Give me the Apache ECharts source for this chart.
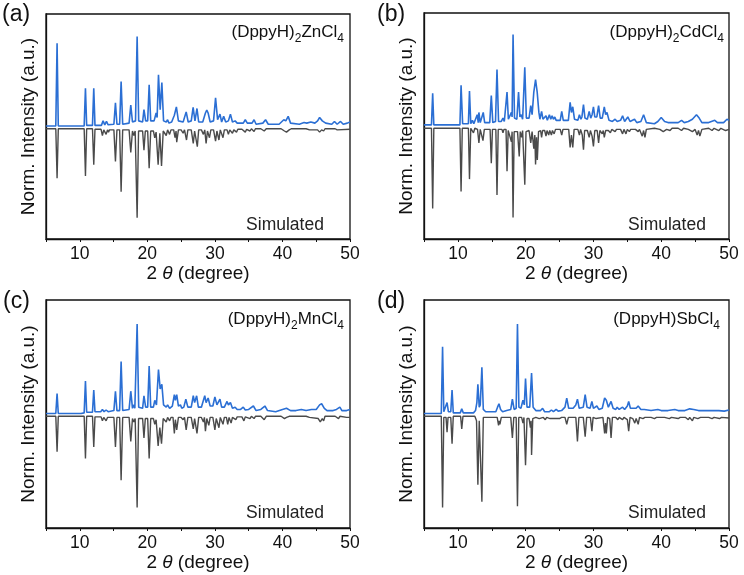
<!DOCTYPE html>
<html><head><meta charset="utf-8">
<script src="https://cdn.jsdelivr.net/npm/echarts@6/dist/echarts.min.js"></script>
<style>html,body{margin:0;padding:0;background:#fff}#c{width:744px;height:575px}</style>
</head><body><div id="c"></div>
<script>
// ---- data (2θ in degrees, normalized intensity) ----
const xTickLabels = [10, 20, 30, 40, 50];
const panelLetters = ['(a)', '(b)', '(c)', '(d)'];
const compoundMetals = ['Zn', 'Cd', 'Mn', 'Sb'];
const compoundCounts = ['2', '2', '2', ''];
const simLabel = 'Simulated';

const znExp = [[5,0.005],[6.45,0.005],[6.64,0.74],[6.82,0.005],[10.65,0.005],[10.84,0.34],[11.02,0.01],[11.88,0.01],[12.07,0.34],[12.25,0.01],[13.2,0.01],[13.45,0.05],[13.7,0.015],[13.95,0.045],[14.2,0.015],[15.05,0.02],[15.28,0.21],[15.5,0.02],[15.9,0.02],[16.12,0.40],[16.35,0.02],[17.3,0.03],[17.55,0.19],[17.8,0.04],[18.25,0.05],[18.49,0.80],[18.72,0.05],[19.3,0.04],[19.5,0.15],[19.75,0.05],[20.05,0.05],[20.27,0.37],[20.5,0.05],[21.0,0.05],[21.3,0.12],[21.45,0.08],[21.65,0.46],[21.9,0.15],[22.15,0.39],[22.4,0.05],[22.8,0.04],[23.0,0.06],[23.2,0.03],[23.6,0.04],[24.0,0.10],[24.3,0.175],[24.6,0.05],[25.3,0.04],[25.75,0.13],[26.05,0.04],[26.5,0.05],[26.78,0.17],[27.05,0.05],[27.35,0.16],[27.6,0.04],[28.2,0.04],[28.6,0.12],[28.8,0.145],[29.0,0.12],[29.3,0.04],[29.8,0.05],[30.1,0.255],[30.4,0.06],[30.75,0.11],[31.0,0.04],[31.3,0.09],[31.6,0.04],[32.0,0.05],[32.3,0.11],[32.6,0.04],[33.0,0.05],[33.3,0.03],[34.2,0.03],[34.5,0.06],[34.8,0.03],[35.5,0.03],[35.8,0.06],[36.1,0.02],[37.1,0.03],[37.5,0.06],[37.9,0.02],[39.5,0.02],[40.2,0.06],[40.5,0.05],[40.85,0.09],[41.2,0.03],[42.5,0.02],[43.2,0.035],[43.6,0.03],[44.2,0.04],[44.8,0.03],[45.2,0.05],[45.5,0.08],[45.9,0.05],[46.4,0.03],[47.3,0.02],[47.7,0.045],[48.1,0.02],[48.6,0.045],[49.0,0.02],[49.6,0.03],[50,0.04]];
const znSim = [[5,-0.02],[6.45,-0.02],[6.64,-0.46],[6.82,-0.02],[10.65,-0.02],[10.84,-0.44],[11.02,-0.02],[11.88,-0.02],[12.07,-0.34],[12.25,-0.025],[13.15,-0.025],[13.35,-0.08],[13.55,-0.03],[13.9,-0.07],[14.1,-0.03],[14.25,-0.05],[14.4,-0.03],[15.05,-0.03],[15.28,-0.31],[15.5,-0.03],[15.9,-0.03],[16.12,-0.58],[16.35,-0.03],[17.3,-0.03],[17.55,-0.23],[17.8,-0.04],[18.0,-0.08],[18.2,-0.04],[18.3,-0.04],[18.49,-0.81],[18.7,-0.04],[19.3,-0.04],[19.5,-0.21],[19.7,-0.04],[20.05,-0.04],[20.27,-0.37],[20.5,-0.04],[20.9,-0.04],[21.1,-0.10],[21.3,-0.05],[21.6,-0.34],[21.85,-0.06],[22.1,-0.35],[22.35,-0.04],[22.6,-0.03],[22.8,-0.08],[23.0,-0.03],[23.3,-0.07],[23.5,-0.03],[23.9,-0.03],[24.1,-0.10],[24.25,-0.04],[24.35,-0.14],[24.6,-0.03],[25.0,-0.03],[25.3,-0.06],[25.5,-0.03],[25.8,-0.12],[26.0,-0.03],[26.5,-0.03],[26.8,-0.15],[27.0,-0.04],[27.4,-0.18],[27.6,-0.03],[28.0,-0.03],[28.3,-0.07],[28.5,-0.03],[28.7,-0.15],[28.9,-0.04],[29.2,-0.10],[29.4,-0.03],[29.8,-0.03],[30.1,-0.13],[30.3,-0.04],[30.6,-0.12],[30.8,-0.03],[31.2,-0.10],[31.4,-0.03],[31.8,-0.03],[32.0,-0.07],[32.2,-0.03],[32.6,-0.06],[32.8,-0.03],[33.2,-0.05],[33.4,-0.025],[34.0,-0.025],[34.5,-0.05],[34.7,-0.025],[35.2,-0.04],[35.4,-0.02],[35.8,-0.045],[36.0,-0.02],[36.8,-0.02],[37.3,-0.04],[37.6,-0.02],[39.8,-0.02],[40.3,-0.04],[40.6,-0.05],[41.0,-0.03],[41.3,-0.02],[43.5,-0.02],[44.0,-0.03],[44.2,-0.02],[45.2,-0.03],[45.5,-0.05],[45.8,-0.03],[46.1,-0.04],[46.3,-0.02],[47.8,-0.02],[48.1,-0.03],[48.3,-0.02],[50,-0.025]];

const cdExp = [[5,0.01],[6.1,0.01],[6.28,0.29],[6.45,0.01],[10.3,0.01],[10.47,0.36],[10.7,0.02],[11.55,0.02],[11.71,0.31],[11.9,0.02],[12.0,0.02],[12.15,0.05],[12.35,0.02],[12.6,0.03],[12.85,0.10],[13.0,0.03],[13.1,0.12],[13.3,0.03],[13.55,0.04],[13.74,0.12],[13.95,0.03],[14.7,0.03],[14.93,0.27],[15.15,0.03],[15.55,0.04],[15.77,0.50],[16.0,0.04],[16.4,0.04],[16.65,0.07],[16.85,0.04],[17.05,0.05],[17.25,0.30],[17.45,0.06],[17.7,0.06],[17.9,0.12],[18.0,0.08],[18.14,0.81],[18.35,0.07],[18.7,0.06],[18.95,0.30],[19.15,0.08],[19.35,0.10],[19.55,0.06],[19.65,0.07],[19.87,0.52],[20.1,0.07],[20.5,0.07],[20.75,0.18],[20.95,0.10],[21.2,0.30],[21.46,0.41],[21.7,0.30],[21.95,0.12],[22.1,0.06],[22.35,0.13],[22.55,0.06],[22.8,0.05],[23.0,0.09],[23.2,0.05],[23.5,0.10],[23.7,0.06],[23.9,0.09],[24.1,0.06],[24.3,0.08],[24.5,0.05],[25.1,0.05],[25.32,0.13],[25.55,0.05],[26.3,0.05],[26.56,0.21],[26.75,0.12],[26.95,0.17],[27.2,0.06],[27.7,0.05],[27.93,0.10],[28.15,0.06],[28.3,0.08],[28.53,0.19],[28.75,0.07],[29.1,0.06],[29.37,0.13],[29.6,0.07],[29.8,0.10],[30.0,0.17],[30.2,0.08],[30.5,0.08],[30.76,0.18],[31.0,0.07],[31.3,0.07],[31.6,0.17],[31.8,0.10],[32.0,0.12],[32.3,0.05],[32.8,0.04],[33.2,0.06],[33.5,0.04],[34.0,0.05],[34.3,0.09],[34.6,0.04],[35.07,0.08],[35.4,0.04],[36.06,0.06],[36.4,0.03],[37.0,0.04],[37.4,0.10],[37.8,0.03],[39.0,0.02],[39.5,0.04],[40.0,0.075],[40.5,0.04],[41.0,0.03],[42.5,0.03],[43.0,0.05],[43.4,0.03],[44.0,0.04],[44.6,0.06],[45.2,0.10],[45.6,0.07],[46.0,0.03],[47.0,0.03],[47.9,0.05],[48.3,0.03],[49.2,0.03],[49.7,0.06],[50,0.05]];
const cdSim = [[5,-0.02],[6.1,-0.02],[6.28,-0.73],[6.45,-0.02],[10.3,-0.02],[10.47,-0.58],[10.65,-0.02],[11.55,-0.02],[11.71,-0.47],[11.9,-0.02],[12.1,-0.02],[12.3,-0.06],[12.5,-0.02],[12.9,-0.03],[13.1,-0.15],[13.3,-0.03],[13.5,-0.03],[13.7,-0.13],[13.9,-0.03],[14.75,-0.03],[14.93,-0.33],[15.1,-0.03],[15.6,-0.03],[15.77,-0.61],[15.95,-0.03],[16.5,-0.03],[16.65,-0.06],[16.8,-0.03],[17.1,-0.03],[17.25,-0.40],[17.42,-0.04],[17.7,-0.05],[17.9,-0.14],[18.0,-0.05],[18.14,-0.81],[18.3,-0.05],[18.8,-0.05],[19.05,-0.27],[19.2,-0.05],[19.4,-0.10],[19.55,-0.04],[19.7,-0.04],[19.87,-0.52],[20.05,-0.05],[20.5,-0.04],[20.75,-0.15],[20.95,-0.05],[21.2,-0.20],[21.35,-0.08],[21.46,-0.34],[21.6,-0.10],[21.72,-0.30],[21.9,-0.05],[22.2,-0.04],[22.35,-0.10],[22.5,-0.04],[22.8,-0.04],[23.0,-0.09],[23.15,-0.04],[23.4,-0.08],[23.55,-0.04],[23.8,-0.08],[23.95,-0.04],[24.2,-0.07],[24.4,-0.03],[25.1,-0.03],[25.32,-0.08],[25.5,-0.03],[26.35,-0.03],[26.56,-0.19],[26.75,-0.08],[26.95,-0.19],[27.15,-0.03],[27.7,-0.03],[27.93,-0.08],[28.1,-0.03],[28.35,-0.08],[28.53,-0.21],[28.7,-0.04],[29.1,-0.04],[29.37,-0.10],[29.55,-0.04],[29.8,-0.09],[30.0,-0.18],[30.2,-0.04],[30.55,-0.04],[30.76,-0.15],[30.95,-0.04],[31.3,-0.07],[31.45,-0.04],[31.6,-0.10],[31.8,-0.04],[32.2,-0.04],[32.5,-0.06],[32.7,-0.03],[33.2,-0.05],[33.4,-0.03],[34.0,-0.03],[34.3,-0.07],[34.5,-0.03],[34.8,-0.07],[35.0,-0.03],[35.3,-0.05],[35.5,-0.03],[36.2,-0.03],[36.6,-0.05],[36.8,-0.03],[37.2,-0.09],[37.4,-0.04],[37.6,-0.10],[37.8,-0.03],[39.0,-0.02],[39.8,-0.03],[40.3,-0.05],[40.8,-0.03],[41.3,-0.04],[41.6,-0.02],[42.5,-0.02],[43.0,-0.04],[43.3,-0.02],[44.0,-0.03],[44.6,-0.05],[45.0,-0.03],[45.3,-0.08],[45.5,-0.04],[45.7,-0.09],[46.0,-0.03],[47.0,-0.02],[47.5,-0.04],[47.8,-0.02],[48.5,-0.04],[48.8,-0.02],[49.5,-0.04],[50,-0.03]];

const mnExp = [[5,0.005],[6.45,0.005],[6.64,0.18],[6.82,0.005],[10.2,0.005],[10.65,0.01],[10.84,0.29],[11.02,0.015],[11.88,0.015],[12.07,0.21],[12.25,0.02],[13.1,0.02],[13.35,0.04],[13.6,0.02],[13.9,0.035],[14.2,0.02],[15.05,0.03],[15.28,0.20],[15.5,0.03],[15.9,0.03],[16.12,0.46],[16.35,0.03],[17.3,0.04],[17.55,0.20],[17.8,0.05],[18.0,0.08],[18.15,0.05],[18.28,0.06],[18.49,0.79],[18.72,0.06],[19.3,0.05],[19.5,0.16],[19.75,0.06],[20.05,0.06],[20.27,0.42],[20.5,0.06],[20.9,0.06],[21.1,0.12],[21.35,0.08],[21.65,0.39],[21.9,0.22],[22.15,0.26],[22.4,0.08],[22.8,0.06],[23.0,0.08],[23.3,0.05],[23.7,0.07],[24.0,0.17],[24.15,0.12],[24.35,0.17],[24.6,0.07],[24.9,0.08],[25.1,0.05],[25.4,0.06],[25.7,0.13],[26.0,0.06],[26.5,0.06],[26.8,0.16],[27.0,0.10],[27.3,0.16],[27.55,0.06],[28.0,0.06],[28.5,0.16],[28.7,0.10],[29.0,0.14],[29.3,0.07],[29.7,0.07],[30.0,0.15],[30.3,0.08],[30.75,0.13],[31.0,0.06],[31.4,0.06],[31.8,0.11],[32.0,0.08],[32.3,0.10],[32.6,0.05],[33.0,0.06],[33.3,0.04],[33.8,0.04],[34.2,0.06],[34.5,0.035],[35.0,0.04],[35.7,0.07],[36.1,0.03],[36.8,0.04],[37.4,0.07],[37.8,0.03],[39.0,0.02],[40.0,0.04],[40.6,0.05],[41.2,0.03],[42.0,0.03],[42.8,0.04],[43.5,0.03],[44.3,0.04],[45.0,0.04],[45.5,0.08],[45.8,0.09],[46.2,0.05],[46.6,0.03],[47.5,0.03],[48.0,0.04],[48.5,0.06],[48.8,0.03],[49.5,0.03],[50,0.04]];
const mnSim = [[5,-0.02],[6.45,-0.02],[6.64,-0.33],[6.82,-0.02],[10.65,-0.02],[10.84,-0.39],[11.02,-0.02],[11.88,-0.02],[12.07,-0.29],[12.25,-0.025],[13.15,-0.025],[13.35,-0.06],[13.55,-0.03],[13.9,-0.06],[14.1,-0.03],[14.25,-0.04],[14.4,-0.03],[15.05,-0.03],[15.28,-0.29],[15.5,-0.03],[15.9,-0.03],[16.12,-0.58],[16.35,-0.03],[17.3,-0.03],[17.55,-0.24],[17.8,-0.04],[18.0,-0.07],[18.2,-0.04],[18.3,-0.04],[18.49,-0.82],[18.7,-0.04],[19.3,-0.04],[19.5,-0.21],[19.7,-0.04],[20.05,-0.04],[20.27,-0.39],[20.5,-0.04],[20.9,-0.04],[21.1,-0.09],[21.3,-0.05],[21.6,-0.28],[21.85,-0.12],[22.1,-0.26],[22.35,-0.04],[22.6,-0.03],[22.8,-0.07],[23.0,-0.03],[23.3,-0.06],[23.5,-0.03],[23.8,-0.03],[24.0,-0.17],[24.15,-0.05],[24.35,-0.14],[24.6,-0.03],[25.0,-0.03],[25.3,-0.05],[25.5,-0.03],[25.75,-0.14],[26.0,-0.03],[26.5,-0.03],[26.8,-0.13],[27.0,-0.04],[27.35,-0.17],[27.6,-0.03],[28.0,-0.03],[28.3,-0.07],[28.45,-0.03],[28.6,-0.15],[28.8,-0.04],[29.1,-0.10],[29.3,-0.03],[29.7,-0.03],[30.0,-0.14],[30.2,-0.04],[30.6,-0.12],[30.8,-0.03],[31.2,-0.09],[31.4,-0.03],[31.7,-0.03],[31.9,-0.09],[32.1,-0.03],[32.4,-0.08],[32.6,-0.03],[33.1,-0.05],[33.3,-0.025],[34.0,-0.025],[34.3,-0.06],[34.5,-0.025],[35.2,-0.04],[35.4,-0.02],[35.8,-0.04],[36.0,-0.02],[36.8,-0.02],[37.3,-0.05],[37.6,-0.02],[39.8,-0.02],[40.3,-0.04],[40.6,-0.03],[41.0,-0.02],[43.5,-0.02],[44.0,-0.03],[44.2,-0.02],[45.3,-0.04],[45.6,-0.07],[45.9,-0.04],[46.1,-0.06],[46.3,-0.02],[47.8,-0.02],[48.3,-0.04],[48.5,-0.02],[49.5,-0.03],[50,-0.03]];

const sbExp = [[5,0.005],[7.55,0.005],[7.74,0.59],[7.92,0.02],[8.2,0.02],[8.4,0.10],[8.6,0.02],[8.95,0.02],[9.14,0.21],[9.32,0.01],[10.35,0.01],[10.57,0.045],[10.8,0.01],[12.3,0.01],[12.6,0.03],[12.8,0.10],[12.95,0.26],[13.15,0.06],[13.3,0.08],[13.54,0.41],[13.75,0.04],[14.1,0.02],[15.6,0.02],[15.85,0.06],[16.06,0.09],[16.3,0.04],[16.6,0.02],[17.2,0.03],[17.8,0.04],[18.04,0.13],[18.3,0.04],[18.6,0.05],[18.79,0.79],[19.0,0.06],[19.3,0.05],[19.6,0.12],[19.8,0.08],[19.98,0.31],[20.2,0.06],[20.6,0.06],[20.87,0.36],[21.1,0.06],[21.5,0.03],[22.2,0.03],[22.5,0.05],[22.8,0.02],[23.5,0.02],[23.8,0.035],[24.1,0.02],[24.5,0.04],[24.8,0.025],[25.3,0.03],[25.8,0.06],[26.06,0.14],[26.35,0.05],[27.0,0.05],[27.4,0.08],[27.64,0.13],[27.9,0.05],[28.5,0.06],[28.78,0.17],[29.05,0.06],[29.5,0.05],[29.77,0.11],[30.0,0.05],[30.5,0.07],[30.8,0.04],[31.3,0.05],[31.65,0.14],[31.9,0.12],[32.2,0.06],[32.6,0.11],[32.9,0.05],[33.3,0.04],[33.5,0.06],[33.8,0.04],[34.3,0.06],[34.6,0.04],[35.0,0.07],[35.2,0.11],[35.45,0.05],[35.8,0.05],[36.06,0.06],[36.3,0.05],[36.6,0.07],[37.0,0.04],[37.5,0.04],[38.5,0.03],[39.5,0.04],[40.0,0.03],[41.0,0.03],[42.0,0.04],[42.5,0.03],[43.5,0.03],[44.2,0.045],[44.8,0.04],[45.5,0.03],[46.5,0.03],[47.5,0.03],[48.5,0.03],[49.3,0.025],[50,0.035]];
const sbSim = [[5,-0.02],[7.55,-0.02],[7.74,-0.82],[7.92,-0.03],[8.25,-0.03],[8.4,-0.16],[8.55,-0.03],[8.95,-0.03],[9.14,-0.26],[9.32,-0.02],[10.4,-0.02],[10.57,-0.13],[10.75,-0.02],[12.5,-0.02],[12.75,-0.06],[12.95,-0.62],[13.15,-0.06],[13.35,-0.06],[13.54,-0.77],[13.75,-0.03],[15.8,-0.03],[16.0,-0.10],[16.1,-0.06],[16.2,-0.09],[16.4,-0.03],[17.8,-0.03],[18.04,-0.21],[18.25,-0.03],[18.6,-0.03],[18.79,-0.81],[18.98,-0.03],[19.4,-0.03],[19.6,-0.08],[19.75,-0.03],[19.98,-0.45],[20.2,-0.04],[20.5,-0.04],[20.7,-0.12],[20.8,-0.06],[20.87,-0.36],[21.05,-0.04],[21.5,-0.03],[22.0,-0.04],[22.2,-0.03],[22.6,-0.03],[22.9,-0.05],[23.1,-0.03],[23.6,-0.04],[23.8,-0.03],[24.4,-0.04],[24.6,-0.03],[25.0,-0.04],[25.3,-0.03],[25.8,-0.03],[26.06,-0.09],[26.3,-0.03],[27.4,-0.03],[27.64,-0.24],[27.85,-0.03],[28.5,-0.03],[28.78,-0.20],[29.0,-0.03],[29.55,-0.03],[29.77,-0.15],[29.95,-0.03],[30.4,-0.04],[30.6,-0.03],[31.4,-0.03],[31.65,-0.17],[31.78,-0.08],[31.9,-0.17],[32.1,-0.03],[32.4,-0.04],[32.6,-0.21],[32.8,-0.03],[33.3,-0.03],[33.6,-0.05],[33.8,-0.03],[34.3,-0.05],[34.5,-0.03],[35.0,-0.05],[35.2,-0.15],[35.4,-0.03],[35.8,-0.04],[36.1,-0.08],[36.3,-0.04],[36.6,-0.09],[36.8,-0.03],[37.3,-0.04],[37.6,-0.03],[38.5,-0.03],[39.0,-0.04],[39.3,-0.03],[40.5,-0.03],[41.2,-0.04],[41.5,-0.03],[42.5,-0.04],[42.8,-0.03],[43.6,-0.03],[44.0,-0.05],[44.2,-0.03],[44.6,-0.06],[44.8,-0.03],[45.4,-0.04],[45.8,-0.03],[47.0,-0.03],[47.5,-0.04],[47.8,-0.03],[48.6,-0.04],[48.9,-0.03],[50,-0.035]];

const expSets = [znExp, cdExp, mnExp, sbExp];
const simSets = [znSim, cdSim, mnSim, sbSim];

// ---- layout / style ----
const FONT = '"Liberation Sans", Arial, Helvetica, sans-serif';
const BLUE = '#2b6fd4';
const GREY = '#4a4a4a';
const grids = [
  {left: 46, top: 14, width: 304, height: 225},
  {left: 424, top: 13, width: 305, height: 226},
  {left: 46, top: 300, width: 304, height: 228},
  {left: 424, top: 300, width: 305, height: 228}
];

const chart = echarts.init(document.getElementById('c'), null, {renderer: 'canvas'});
const option = {
  animation: false,
  backgroundColor: '#fff',
  grid: grids.map(g => Object.assign({show: true, borderColor: '#111', borderWidth: 1.3, backgroundColor: 'transparent'}, g)),
  xAxis: grids.map((g, i) => ({
    gridIndex: i, type: 'value', min: 5, max: 50, interval: 5,
    axisLine: {show: true, onZero: false, lineStyle: {color: '#111', width: 1.3}},
    axisTick: {show: true, inside: false, length: 3, lineStyle: {color: '#111'}},
    splitLine: {show: false},
    axisLabel: {
      margin: 6, color: '#111', fontFamily: FONT, fontSize: 17.5,
      formatter: v => xTickLabels.includes(v) ? String(v) : ''
    },
    name: '{n|2 }{i|θ}{n| (degree)}',
    nameLocation: 'middle', nameGap: 21,
    nameTextStyle: {
      color: '#111', fontFamily: FONT, fontSize: 19, verticalAlign: 'top',
      rich: {n: {fontFamily: FONT, fontSize: 19, color: '#111'}, i: {fontFamily: FONT, fontSize: 19, fontStyle: 'italic', color: '#111'}}
    }
  })),
  yAxis: grids.map((g, i) => ({
    gridIndex: i, type: 'value', min: -1, max: 1,
    axisLine: {show: true, lineStyle: {color: '#111', width: 1.3}},
    axisTick: {show: false}, axisLabel: {show: false}, splitLine: {show: false},
    name: 'Norm. Intensity (a.u.)', nameLocation: 'middle', nameGap: 8, nameRotate: 90,
    nameTextStyle: {color: '#111', fontFamily: FONT, fontSize: 19}
  })),
  series: [],
  graphic: []
};

for (let i = 0; i < 4; i++) {
  option.series.push({
    type: 'line', xAxisIndex: i, yAxisIndex: i, data: simSets[i],
    showSymbol: false, smooth: false, lineStyle: {color: GREY, width: 1.4}, z: 2, clip: true
  });
  option.series.push({
    type: 'line', xAxisIndex: i, yAxisIndex: i, data: expSets[i],
    showSymbol: false, smooth: false, lineStyle: {color: BLUE, width: 1.6}, z: 3, clip: true
  });
}

// text decorations
const letterPos = [[2, 3], [377, 3], [3, 290], [377, 290]];
const formulaRight = [344, 724, 344, 720];
const formulaTop = [24, 24, 311, 311];
const simCenter = [[285, 225], [667, 225], [285, 513], [667, 513]];
for (let i = 0; i < 4; i++) {
  option.graphic.push({
    type: 'text', left: letterPos[i][0], top: letterPos[i][1], z: 10,
    style: {text: panelLetters[i], font: '23px ' + FONT, fill: '#111'}
  });
  const cnt = compoundCounts[i];
  const txt = '{n|(DppyH)}' + (cnt ? '{s|' + cnt + '}' : '') + '{n|' + compoundMetals[i] + 'Cl}{s|4}';
  option.graphic.push({
    type: 'text', right: 744 - formulaRight[i], top: formulaTop[i], z: 10,
    style: {
      text: txt, fill: '#111', font: '17px ' + FONT,
      rich: {
        n: {font: '17px ' + FONT, fontFamily: FONT, fontSize: 17, lineHeight: 21, verticalAlign: 'top', fill: '#111'},
        s: {font: '12px ' + FONT, fontFamily: FONT, fontSize: 12, lineHeight: 21, verticalAlign: 'bottom', fill: '#111'}
      }
    }
  });
  option.graphic.push({
    type: 'text', x: simCenter[i][0], y: simCenter[i][1], z: 10,
    style: {text: simLabel, font: '17.5px ' + FONT, fill: '#222', align: 'center', verticalAlign: 'middle'}
  });
}

chart.setOption(option);
</script>
</body></html>
